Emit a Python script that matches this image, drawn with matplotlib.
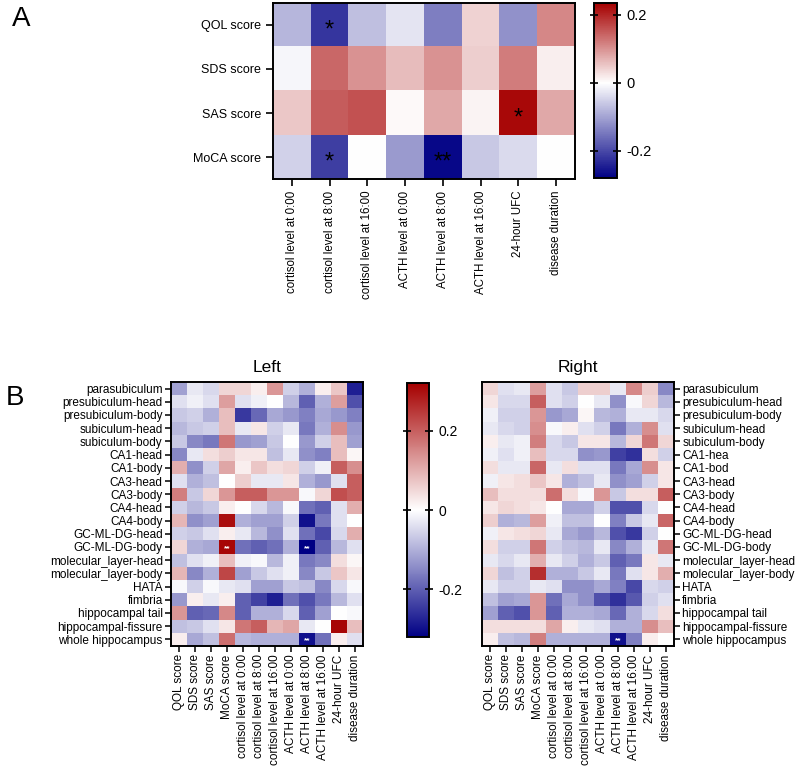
import numpy as np
import matplotlib
matplotlib.use("Agg")
import matplotlib.pyplot as plt
from matplotlib.colors import LinearSegmentedColormap, Normalize

plt.rcParams['font.family'] = ['Liberation Sans', 'DejaVu Sans']

# ---------------- Panel A data ----------------
a_rows = ["QOL score", "SDS score", "SAS score", "MoCA score"]
a_cols = ["cortisol level at 0:00", "cortisol level at 8:00", "cortisol level at 16:00",
          "ACTH level at 0:00", "ACTH level at 8:00", "ACTH level at 16:00",
          "24-hour UFC", "disease duration"]
a_qol = [-0.08, -0.22, -0.07, -0.03, -0.14, 0.04, -0.12, 0.11]
a_sds = [-0.01, 0.14, 0.10, 0.06, 0.10, 0.045, 0.12, 0.015]
a_sas = [0.05, 0.15, 0.16, 0.005, 0.08, 0.01, 0.225, 0.08]
a_moca = [-0.05, -0.21, 0.0, -0.11, -0.27, -0.06, -0.04, 0.0]
a_stars = [(0, 1, "*"), (2, 6, "*"), (3, 1, "*"), (3, 4, "**")]
a_vmin, a_vmax = -0.28, 0.235
a_ticks = [-0.2, 0, 0.2]

# ---------------- Panel B data ----------------
b_rows = ["parasubiculum", "presubiculum-head", "presubiculum-body", "subiculum-head",
          "subiculum-body", "CA1-head", "CA1-body", "CA3-head", "CA3-body", "CA4-head",
          "CA4-body", "GC-ML-DG-head", "GC-ML-DG-body", "molecular_layer-head",
          "molecular_layer-body", "HATA", "fimbria", "hippocampal tail",
          "hippocampal-fissure", "whole hippocampus"]
b_rows_right = ["parasubiculum", "presubiculum-head", "presubiculum-body", "subiculum-head",
                "subiculum-body", "CA1-hea", "CA1-bod", "CA3-head", "CA3-body", "CA4-head",
                "CA4-body", "GC-ML-DG-head", "GC-ML-DG-body", "molecular_layer-head",
                "molecular_layer-body", "HATA", "fimbria", "hippocampal tail",
                "hippocampal-fissure", "whole hippocampus"]
b_cols = ["QOL score", "SDS score", "SAS score", "MoCA score", "cortisol level at 0:00",
          "cortisol level at 8:00", "cortisol level at 16:00", "ACTH level at 0:00",
          "ACTH level at 8:00", "ACTH level at 16:00", "24-hour UFC", "disease duration"]

left_vals = [
    [-0.12, -0.03, -0.05, 0.05, 0.05, 0.02, 0.13, -0.06, -0.10, 0.02, 0.07, -0.28],
    [-0.04, -0.02, -0.04, 0.12, -0.04, -0.02, 0.00, -0.09, -0.20, -0.10, 0.12, -0.22],
    [-0.07, -0.06, -0.10, 0.08, -0.25, -0.19, -0.11, -0.13, -0.16, -0.11, -0.13, -0.16],
    [-0.09, -0.07, -0.06, 0.08, -0.03, 0.03, -0.06, -0.03, -0.17, -0.10, 0.14, -0.13],
    [-0.07, -0.15, -0.17, 0.17, -0.13, -0.12, -0.07, 0.00, -0.13, -0.06, 0.08, -0.12],
    [-0.15, -0.03, 0.04, 0.06, 0.03, 0.03, -0.08, -0.03, -0.14, -0.16, 0.08, 0.01],
    [0.10, -0.14, -0.06, 0.11, 0.02, 0.07, 0.04, 0.05, -0.06, -0.02, 0.20, 0.14],
    [-0.04, -0.10, -0.08, 0.00, 0.06, -0.03, -0.03, 0.03, -0.10, -0.13, -0.04, 0.20],
    [0.16, -0.07, 0.05, 0.13, 0.20, 0.20, 0.13, 0.13, -0.01, 0.05, 0.22, 0.20],
    [-0.06, -0.09, -0.07, 0.02, 0.00, -0.05, -0.09, -0.01, -0.18, -0.20, -0.04, 0.10],
    [0.09, -0.14, -0.12, 0.30, -0.10, -0.12, -0.12, -0.06, -0.30, -0.17, -0.04, 0.00],
    [-0.06, -0.07, -0.04, 0.02, -0.03, -0.09, -0.14, -0.04, -0.18, -0.23, -0.05, 0.10],
    [0.05, -0.10, -0.11, 0.31, -0.18, -0.20, -0.18, -0.10, -0.32, -0.20, -0.09, -0.04],
    [-0.08, -0.04, -0.02, 0.08, -0.02, -0.01, -0.09, -0.02, -0.17, -0.15, 0.04, 0.01],
    [0.09, -0.15, -0.10, 0.23, -0.12, -0.07, -0.04, -0.02, -0.15, -0.07, 0.07, 0.03],
    [-0.01, -0.06, -0.01, -0.03, -0.04, -0.12, -0.12, -0.07, -0.08, -0.15, -0.05, -0.01],
    [-0.13, 0.02, -0.03, 0.02, -0.20, -0.24, -0.28, -0.18, -0.22, -0.17, -0.09, -0.04],
    [0.13, -0.20, -0.19, 0.15, -0.20, -0.10, -0.10, -0.05, -0.20, -0.12, 0.00, -0.01],
    [-0.08, -0.07, -0.04, 0.03, 0.17, 0.20, 0.09, 0.11, -0.03, 0.00, 0.31, 0.08],
    [0.02, -0.11, -0.08, 0.18, -0.09, -0.10, -0.10, -0.10, -0.30, -0.18, 0.02, -0.04],
]
right_vals = [
    [0.05, -0.04, -0.03, 0.12, -0.04, -0.07, 0.06, 0.06, -0.03, 0.15, 0.06, -0.15],
    [0.03, -0.05, -0.05, 0.20, -0.04, -0.06, 0.00, -0.03, -0.14, -0.01, 0.05, -0.09],
    [-0.02, -0.06, -0.06, 0.13, -0.13, -0.11, 0.01, -0.09, -0.10, -0.03, -0.03, -0.05],
    [-0.03, -0.05, -0.06, 0.14, -0.01, 0.02, -0.04, -0.06, -0.17, -0.10, 0.14, -0.04],
    [0.02, -0.03, -0.02, 0.16, -0.05, -0.07, 0.03, 0.03, -0.09, 0.05, 0.17, 0.05],
    [-0.02, -0.04, -0.02, 0.08, -0.05, -0.05, -0.14, -0.13, -0.24, -0.26, 0.04, -0.06],
    [0.04, -0.03, -0.03, 0.19, -0.03, 0.04, -0.04, -0.04, -0.17, -0.11, 0.14, 0.03],
    [-0.02, 0.03, 0.04, 0.07, 0.03, -0.10, -0.08, -0.03, -0.14, -0.12, -0.06, 0.03],
    [0.08, 0.04, 0.04, 0.04, 0.18, 0.04, -0.01, 0.13, -0.07, 0.04, 0.04, 0.20],
    [0.03, 0.05, 0.04, 0.03, 0.00, -0.11, -0.11, -0.06, -0.22, -0.22, -0.05, 0.00],
    [0.06, -0.10, -0.09, 0.12, -0.02, -0.08, -0.08, 0.00, -0.16, -0.07, -0.03, 0.19],
    [-0.02, 0.03, 0.04, 0.05, -0.03, -0.11, -0.13, -0.09, -0.22, -0.25, -0.06, 0.00],
    [0.04, -0.06, -0.06, 0.17, -0.06, -0.08, -0.09, -0.03, -0.15, -0.10, -0.03, 0.17],
    [-0.03, -0.05, -0.03, 0.10, -0.03, -0.06, -0.10, -0.07, -0.20, -0.17, 0.03, -0.03],
    [0.05, -0.08, -0.06, 0.26, -0.10, -0.10, -0.07, -0.03, -0.17, -0.04, 0.03, 0.10],
    [-0.03, -0.06, -0.06, -0.03, -0.04, -0.14, -0.14, -0.11, -0.16, -0.23, -0.05, -0.06],
    [-0.08, -0.12, -0.11, 0.13, -0.18, -0.11, -0.14, -0.22, -0.26, -0.21, -0.06, -0.04],
    [-0.12, -0.20, -0.22, 0.13, -0.20, -0.10, -0.10, -0.11, -0.19, -0.10, -0.05, 0.04],
    [0.04, 0.04, 0.04, 0.04, 0.11, 0.02, -0.03, -0.04, -0.10, -0.10, 0.14, 0.08],
    [0.02, -0.08, -0.09, 0.16, -0.10, -0.10, -0.10, -0.10, -0.30, -0.16, 0.02, 0.00],
]
left_stars = [(12, 3), (12, 8), (19, 8)]
right_stars = [(19, 8)]
b_vmin, b_vmax = -0.32, 0.32
b_ticks = [-0.2, 0, 0.2]

# ---------------- helpers ----------------
W, H = 800, 772
fig = plt.figure(figsize=(W / 100, H / 100), dpi=100)


def ax_px(x0, y0, x1, y1):
    return fig.add_axes([x0 / W, 1 - y1 / H, (x1 - x0) / W, (y1 - y0) / H])


def make_cmap(vmin, vmax):
    f = -vmin / (vmax - vmin)
    return LinearSegmentedColormap.from_list(
        "prism_rwb", [(0.0, (0.0, 0.0, 0.52)), (f, (1.0, 1.0, 1.0)), (1.0, (0.65, 0.0, 0.0))])


def style_spines(ax, lw=1.4):
    for s in ax.spines.values():
        s.set_linewidth(lw)
        s.set_color("black")


def colorbar(cax, im, ticks, fs):
    cb = fig.colorbar(im, cax=cax, ticks=ticks)
    cb.outline.set_linewidth(1.4)
    cb.ax.set_yticklabels([("%g" % t) for t in ticks], fontsize=fs)
    cb.ax.tick_params(left=True, right=True, direction="inout", length=6, width=1.2, pad=4)
    return cb


# ---------------- Panel A ----------------
a_data = np.array([a_qol, a_sds, a_sas, a_moca])
cmap_a = make_cmap(a_vmin, a_vmax)
axA = ax_px(273, 3, 575, 179)
imA = axA.imshow(a_data, cmap=cmap_a, norm=Normalize(a_vmin, a_vmax), aspect="auto",
                 interpolation="nearest")
axA.set_yticks(range(len(a_rows)))
axA.set_yticklabels(a_rows, fontsize=9)
axA.set_xticks(range(len(a_cols)))
axA.set_xticklabels(a_cols, rotation=90, fontsize=8.3)
axA.tick_params(length=5, width=1.2, direction="out")
style_spines(axA)
for r, c, s in a_stars:
    axA.text(c, r + 0.12, s, ha="center", va="center", fontsize=17, color="black")
caxA = ax_px(594, 3, 617, 178)
colorbar(caxA, imA, a_ticks, 10.5)
fig.text(12 / W, 1 - 19 / H, "A", fontsize=20, va="center", ha="left")

# ---------------- Panel B ----------------
cmap_b = make_cmap(b_vmin, b_vmax)
normb = Normalize(b_vmin, b_vmax)

axL = ax_px(171, 382, 363, 646)
imL = axL.imshow(np.array(left_vals), cmap=cmap_b, norm=normb, aspect="auto",
                 interpolation="nearest")
axL.set_yticks(range(len(b_rows)))
axL.set_yticklabels(b_rows, fontsize=8.5)
axL.set_xticks(range(len(b_cols)))
axL.set_xticklabels(b_cols, rotation=90, fontsize=8.5)
axL.tick_params(length=4, width=1.1, direction="out", pad=2)
axL.set_title("Left", fontsize=12.5, pad=7)
style_spines(axL)
for r, c in left_stars:
    axL.text(c, r + 0.1, "**", ha="center", va="center", fontsize=6, color="white",
             fontweight="bold")

axR = ax_px(482, 382, 674, 646)
axR.imshow(np.array(right_vals), cmap=cmap_b, norm=normb, aspect="auto",
           interpolation="nearest")
axR.set_yticks(range(len(b_rows_right)))
axR.set_yticklabels(b_rows_right, fontsize=8.5)
axR.yaxis.tick_right()
axR.set_xticks(range(len(b_cols)))
axR.set_xticklabels(b_cols, rotation=90, fontsize=8.5)
axR.tick_params(length=4, width=1.1, direction="out", pad=2)
axR.set_title("Right", fontsize=12.5, pad=7)
style_spines(axR)
for r, c in right_stars:
    axR.text(c, r + 0.1, "**", ha="center", va="center", fontsize=6, color="white",
             fontweight="bold")

caxB = ax_px(407, 383, 429, 637)
colorbar(caxB, imL, b_ticks, 10)
fig.text(6 / W, 1 - 398 / H, "B", fontsize=20, va="center", ha="left")

fig.savefig("out.png", dpi=100)
